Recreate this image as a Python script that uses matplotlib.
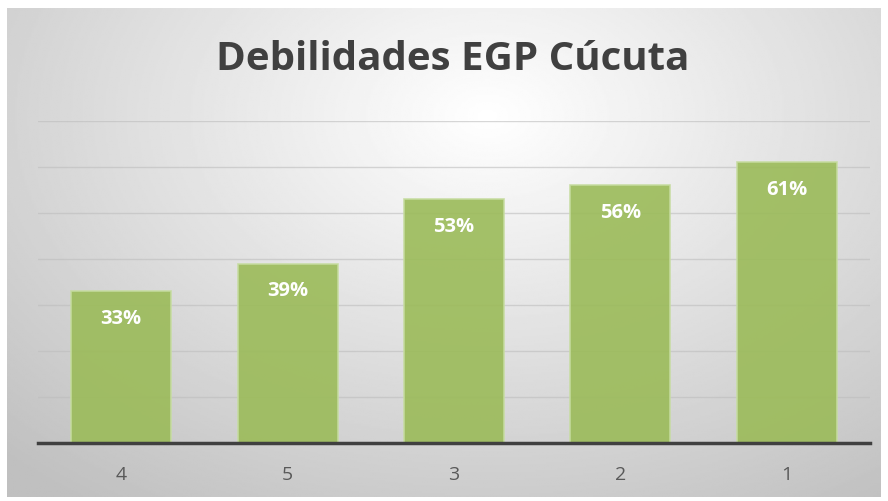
import numpy as np
import matplotlib
matplotlib.use("Agg")
import matplotlib.pyplot as plt

categories = ["4", "5", "3", "2", "1"]
values = [33, 39, 53, 56, 61]
labels = ["33%", "39%", "53%", "56%", "61%"]
title = "Debilidades EGP Cúcuta"

W, H = 888, 501
fig = plt.figure(figsize=(W / 100, H / 100), dpi=100)
fig.patch.set_facecolor("white")

# gradient background of the chart area
bg = fig.add_axes([7 / W, 1 - 497 / H, (880 - 7) / W, (497 - 8) / H], zorder=-1)
yy, xx = np.mgrid[0:1:300j, 0:1:500j]
r = np.sqrt(((xx - 0.55) / 0.7) ** 2 + ((yy - 0.22) / 0.85) ** 2)
shade = 1.0 - 0.25 * np.clip(r, 0, 1.15) / 1.15
bg.imshow(shade, cmap="gray", vmin=0, vmax=1, aspect="auto", extent=[0, 1, 0, 1])
bg.axis("off")

ax = fig.add_axes([38 / W, 1 - 443 / H, 832 / W, (443 - 121) / H])
ax.patch.set_alpha(0)

x = np.arange(len(categories))
bars = ax.bar(x, values, width=0.6, color="#9bbb59", alpha=0.9,
              edgecolor="#c6dca0", linewidth=1.2, zorder=3)

for b, lab in zip(bars, labels):
    ax.annotate(lab, (b.get_x() + b.get_width() / 2, b.get_height()),
                xytext=(0, -20), textcoords="offset points",
                ha="center", va="center", color="white",
                fontsize=14.5, fontweight="bold", family="Open Sans", zorder=4)

ax.set_xlim(-0.5, len(categories) - 0.5)
ax.set_ylim(0, 70)
ax.set_yticks(np.arange(10, 71, 10))
ax.yaxis.grid(True, color="#bdbdbd", linewidth=1, zorder=0)
ax.set_axisbelow(False)
for gl in ax.get_ygridlines():
    gl.set_zorder(3.5)
    gl.set_alpha(0.6)
ax.tick_params(axis="y", left=False, labelleft=False)
ax.tick_params(axis="x", bottom=False, labelsize=14, labelcolor="#595959", pad=13)
ax.set_xticks(x)
ax.set_xticklabels(categories, family="Open Sans")
for s in ["top", "right", "left"]:
    ax.spines[s].set_visible(False)
ax.spines["bottom"].set_color("#404040")
ax.spines["bottom"].set_linewidth(2.5)
ax.spines["bottom"].set_zorder(5)

fig.text(453 / W, 1 - 59 / H, title, ha="center", va="center",
         fontsize=29, fontweight="bold", color="#404040", family="Open Sans")

fig.savefig("out.png", dpi=100)
